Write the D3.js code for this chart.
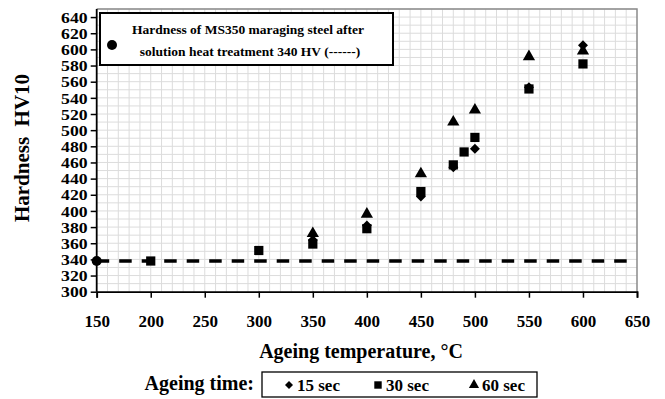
<!DOCTYPE html>
<html>
<head>
<meta charset="utf-8">
<script src="https://cdn.jsdelivr.net/npm/d3@7"></script>
<style>
  body { margin: 0; background: #fff; }
  svg { display: block; font-family: "Liberation Serif", "Times New Roman", serif; font-weight: bold; }
</style>
</head>
<body>
<svg id="chart" width="665" height="399"></svg>
<script>
// ageing temperature (°C) and hardness (HV10) per ageing time
const temps15 = [350, 400, 450, 480, 500, 550, 600];
const hv15    = [364, 382, 418, 454, 477, 553, 605];
const temps30 = [200, 300, 350, 400, 450, 480, 490, 500, 550, 600];
const hv30    = [338, 351, 359, 378, 424, 457, 473, 491, 551, 582];
const temps60 = [350, 400, 450, 480, 500, 550, 600];
const hv60    = [372, 396, 446, 510, 525, 591, 598];
const solutionTemp = 150, solutionHV = 338;
const xTicks = [150, 200, 250, 300, 350, 400, 450, 500, 550, 600, 650];
const yTicks = d3.range(300, 641, 20);
const legendItems = ["15 sec", "30 sec", "60 sec"];

const serif = "'Liberation Serif', 'Times New Roman', serif";
const svg = d3.select("#chart");
const pLeft = 96.7, pRight = 637, pTop = 9, pBottom = 291.7;

const x = d3.scaleLinear().domain([150, 650]).range([pLeft, pRight]);
const y = d3.scaleLinear().domain([300, 650]).range([pBottom, pTop]);

// minor grid every 10 units
const grid = svg.append("g");
grid.selectAll(".vg").data(d3.range(160, 650, 10)).join("line")
  .attr("x1", d => x(d)).attr("x2", d => x(d)).attr("y1", pTop).attr("y2", pBottom)
  .attr("stroke", "#dcdcdc").attr("stroke-width", 1);
grid.selectAll(".hg").data(d3.range(310, 651, 10)).join("line")
  .attr("x1", pLeft).attr("x2", pRight).attr("y1", d => y(d)).attr("y2", d => y(d))
  .attr("stroke", "#dcdcdc").attr("stroke-width", 1);

// frame (top/right)
svg.append("path")
  .attr("d", `M${pLeft},${pTop}H${pRight}V${pBottom}`)
  .attr("fill", "none").attr("stroke", "#8a8a8a").attr("stroke-width", 1.5);

// axes
const xAxis = svg.append("g").attr("transform", `translate(0,${pBottom})`)
  .call(d3.axisBottom(x).tickValues(xTicks).tickSize(6).tickPadding(17).tickFormat(d3.format("d")));
const yAxis = svg.append("g").attr("transform", `translate(${pLeft},0)`)
  .call(d3.axisLeft(y).tickValues(yTicks).tickSize(6).tickPadding(3).tickFormat(d3.format("d")));
[xAxis, yAxis].forEach(a => {
  a.attr("font-family", serif).attr("font-weight", "bold");
  a.select(".domain").attr("stroke", "#000").attr("stroke-width", 1.8);
  a.selectAll(".tick line").attr("stroke", "#000").attr("stroke-width", 1.5);
  a.selectAll("text").attr("fill", "#000");
});
xAxis.attr("font-size", 17);
yAxis.attr("font-size", 14.5);
yAxis.selectAll("text").attr("x", -7.5).attr("dy", "0.36em").attr("transform", "scale(1.22,1)");
yAxis.select(".domain").attr("d", `M0,${pTop}V${pBottom}`);

// dashed reference line (solution-treated hardness)
svg.append("line")
  .attr("x1", x(solutionTemp)).attr("x2", x(648))
  .attr("y1", y(solutionHV)).attr("y2", y(solutionHV))
  .attr("stroke", "#000").attr("stroke-width", 3.5).attr("stroke-dasharray", "12.5,10");

// markers (diamond = square turned 45°)
function drawSeries(ts, vs, s, rot) {
  svg.append("g").selectAll("path").data(ts).join("path")
    .attr("d", s)
    .attr("transform", (d, i) => `translate(${x(d)},${y(vs[i])}) rotate(${rot})`)
    .attr("fill", "#000");
}
drawSeries(temps15, hv15, d3.symbol().type(d3.symbolSquare).size(50), 45);
drawSeries(temps30, hv30, d3.symbol().type(d3.symbolSquare).size(85), 0);
drawSeries(temps60, hv60, d3.symbol().type(d3.symbolTriangle).size(65), 0);

svg.append("circle").attr("cx", x(solutionTemp)).attr("cy", y(solutionHV)).attr("r", 5).attr("fill", "#000");

// inner legend box
const lg = svg.append("g");
lg.append("rect").attr("x", 100).attr("y", 13).attr("width", 293).attr("height", 52)
  .attr("fill", "#fff").attr("stroke", "#000").attr("stroke-width", 2);
lg.append("circle").attr("cx", 112).attr("cy", 45).attr("r", 5).attr("fill", "#000");
lg.append("text").attr("x", 248).attr("y", 34).attr("text-anchor", "middle")
  .style("font-size", "13.5px").text("Hardness of MS350 maraging steel after");
lg.append("text").attr("x", 250).attr("y", 56).attr("text-anchor", "middle")
  .style("font-size", "13.5px").text("solution heat treatment 340 HV (------)");

// axis titles
svg.append("text").attr("transform", `translate(29,148) rotate(-90)`).attr("text-anchor", "middle")
  .style("font-size", "21px").style("white-space", "pre").text("Hardness  HV10");
svg.append("text").attr("x", 361).attr("y", 358).attr("text-anchor", "middle")
  .style("font-size", "20px").text("Ageing temperature, °C");

// bottom legend
svg.append("text").attr("x", 254).attr("y", 390).attr("text-anchor", "end")
  .style("font-size", "20px").text("Ageing time:");
svg.append("rect").attr("x", 262).attr("y", 372).attr("width", 275).attr("height", 25)
  .attr("fill", "#fff").attr("stroke", "#000").attr("stroke-width", 1.3);
const legSyms = [d3.symbol().type(d3.symbolSquare).size(32), d3.symbol().type(d3.symbolSquare).size(55), d3.symbol().type(d3.symbolTriangle).size(45)];
const legRot = [45, 0, 0];
const legX = [289, 378, 474];
legendItems.forEach((t, i) => {
  svg.append("path").attr("d", legSyms[i]).attr("transform", `translate(${legX[i]},385) rotate(${legRot[i]})`).attr("fill", "#000");
  svg.append("text").attr("x", legX[i] + 8).attr("y", 391).style("font-size", "17px").text(t);
});
</script>
</body>
</html>
